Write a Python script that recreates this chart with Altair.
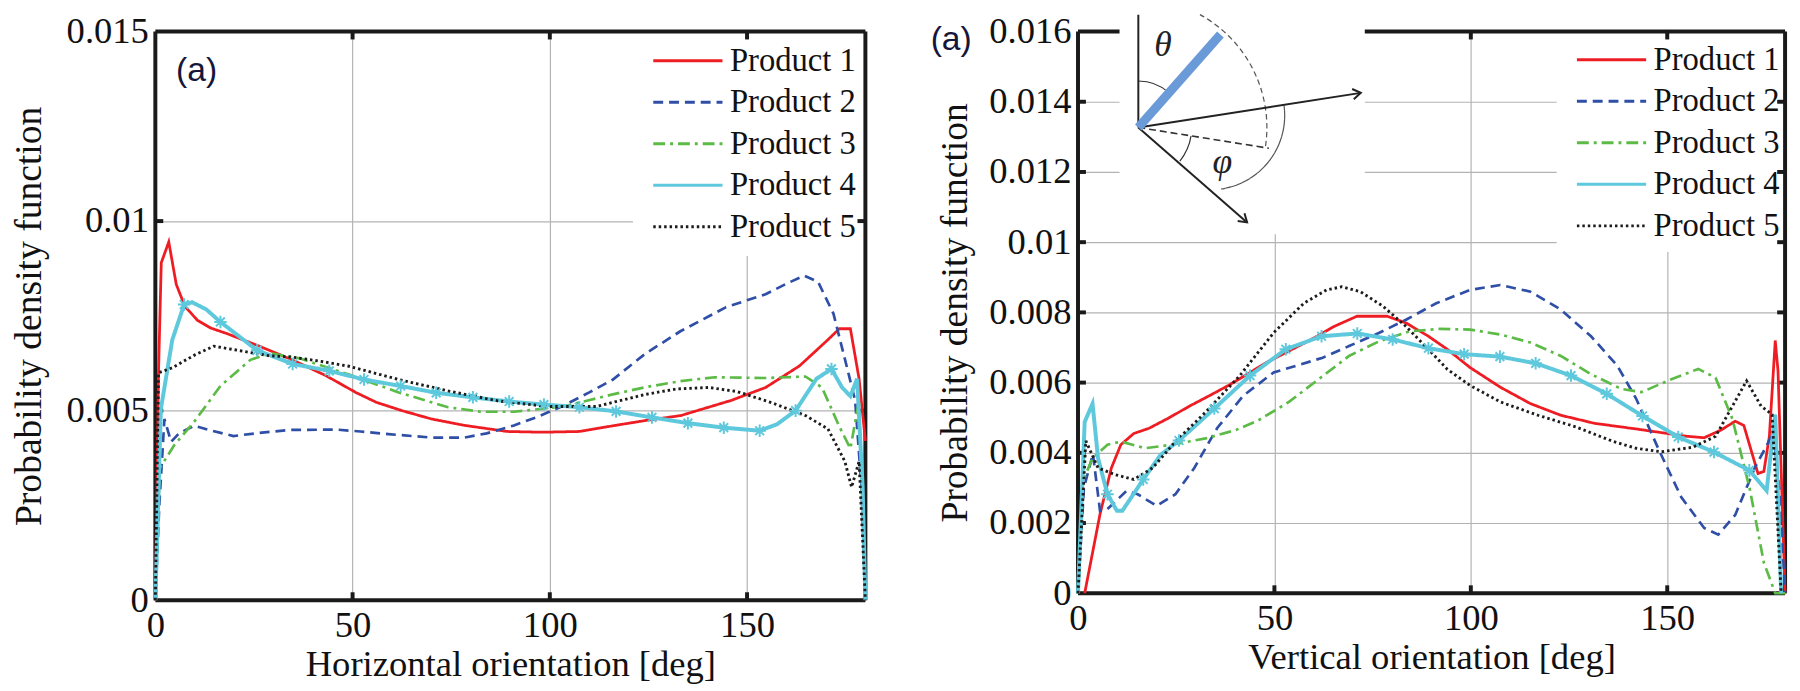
import altair as alt
import pandas as pd

SERIES = ["Product 1", "Product 2", "Product 3", "Product 4", "Product 5"]
COLORS = ["#ee1d23", "#2f4fa6", "#5cbb46", "#5ec8dc", "#1c1c1c"]
DASHES = [[1, 0], [10, 6], [12, 5, 3, 5], [1, 0], [2.5, 3]]
WIDTHS = [2.8, 2.7, 2.7, 4.0, 2.9]
FRAME = "#1a1a1a"
SERIF = "Liberation Serif"

X_TICKS = [0, 50, 100, 150]
H_Y_TICKS = [0, 0.005, 0.01, 0.015]
V_Y_TICKS = [0, 0.002, 0.004, 0.006, 0.008, 0.01, 0.012, 0.014, 0.016]

# ---------------- Horizontal orientation (left panel) ----------------
h_p1_x = [0, 0.8, 1.5, 3.4, 5.3, 7.5, 10.7, 14, 18.2, 26.6, 34.9, 43.3, 50.8, 56, 62.5, 70, 78.4, 89.2, 98, 107.5, 116, 124.3, 133.2, 146, 154.7, 163.3, 170.5, 173.4, 176.2, 178.4, 180]
h_p1_y = [0, 0.006, 0.0089, 0.00945, 0.00833, 0.00775, 0.00738, 0.00718, 0.00703, 0.00669, 0.00633, 0.00592, 0.00548, 0.00522, 0.005, 0.00478, 0.00461, 0.00445, 0.00443, 0.00445, 0.0046, 0.00474, 0.00487, 0.00527, 0.00561, 0.00618, 0.00687, 0.00716, 0.00716, 0.00584, 0.0042]

h_p2_x = [0, 1, 2.3, 4, 6, 9.8, 14, 19.8, 27, 34, 45.8, 52, 59.1, 70, 78.4, 84, 90.9, 97, 103.4, 110, 116, 124.3, 133.2, 144.7, 154.7, 160, 164.5, 168, 171.9, 175.5, 177.4, 179, 180]
h_p2_y = [0, 0.0025, 0.00478, 0.00418, 0.0044, 0.0046, 0.00448, 0.00433, 0.00442, 0.00449, 0.0045, 0.00445, 0.00438, 0.00429, 0.00429, 0.0044, 0.00461, 0.00484, 0.00513, 0.00548, 0.00582, 0.00651, 0.0071, 0.00773, 0.00807, 0.00835, 0.00856, 0.0084, 0.00756, 0.00607, 0.00527, 0.003, 0]

h_p3_x = [0, 1.1, 4.8, 9.8, 16.5, 24.1, 29.1, 36.6, 49.1, 61.7, 74.2, 82.5, 90.9, 103.4, 116, 124.3, 133.2, 141.8, 154.7, 164.8, 169, 173.4, 176.2, 178.4, 180]
h_p3_y = [0, 0.00348, 0.00409, 0.0047, 0.00565, 0.00634, 0.00651, 0.00638, 0.00595, 0.00548, 0.00509, 0.00497, 0.00497, 0.00511, 0.00543, 0.00562, 0.00578, 0.00588, 0.00586, 0.0059, 0.00561, 0.00458, 0.004, 0.00527, 0]

h_p4_x = [0, 1.4, 4.3, 7.3, 9.3, 12.9, 16.5, 25.8, 34.8, 44.1, 52.9, 62.2, 71.2, 80.5, 89.7, 98.5, 107.5, 116.8, 125.9, 135, 144.1, 153.2, 157.6, 162.3, 167.6, 171.4, 174.1, 176.2, 177.9, 179.3, 180]
h_p4_y = [0, 0.00504, 0.00687, 0.0078, 0.00786, 0.00767, 0.00734, 0.00659, 0.00623, 0.00605, 0.00582, 0.00565, 0.00547, 0.00535, 0.00524, 0.00516, 0.00509, 0.00498, 0.00482, 0.00467, 0.00455, 0.00447, 0.00464, 0.005, 0.00584, 0.0061, 0.00561, 0.00538, 0.00584, 0.003, 0]
h_p4_marks = [7.3, 16.5, 25.8, 34.8, 44.1, 52.9, 62.2, 71.2, 80.5, 89.7, 98.5, 107.5, 116.8, 125.9, 135, 144.1, 153.2, 162.3, 171.4]

h_p5_x = [0, 0.8, 4.3, 10, 14.8, 21.5, 28.7, 34.9, 42, 49.1, 61.7, 74.2, 86.7, 99.2, 111.8, 124.3, 132, 140.4, 147.6, 156.2, 164.8, 170.5, 174.8, 176.5, 178.4, 180]
h_p5_y = [0, 0.006, 0.00613, 0.00647, 0.0067, 0.00658, 0.00645, 0.00641, 0.0063, 0.00617, 0.00582, 0.00552, 0.00526, 0.00511, 0.00511, 0.00543, 0.00557, 0.00561, 0.0055, 0.00521, 0.00487, 0.00452, 0.00366, 0.00298, 0.00366, 0]

# ---------------- Vertical orientation (right panel) ----------------
v_p1_x = [1.7, 5.6, 8.5, 10.9, 14.2, 18.1, 22.9, 28.7, 33.5, 38.3, 43.1, 47.9, 53.7, 59.4, 65.2, 71, 78.7, 83.5, 89.2, 94, 99.8, 107.5, 115.2, 122.9, 131.5, 142.1, 155, 159.4, 163.7, 167.3, 169.5, 173.1, 174.6, 176, 177.5, 178.2, 180]
v_p1_y = [0, 0.00225, 0.00357, 0.00423, 0.00455, 0.0047, 0.00498, 0.00535, 0.00563, 0.00592, 0.00624, 0.00657, 0.0069, 0.00723, 0.0076, 0.00789, 0.00789, 0.0077, 0.00732, 0.00695, 0.00643, 0.00587, 0.0054, 0.00507, 0.00484, 0.00468, 0.00447, 0.00443, 0.00465, 0.0049, 0.00478, 0.00341, 0.00347, 0.00447, 0.0072, 0.00633, 0]

v_p2_x = [0, 1.5, 3.8, 5.6, 7.5, 12.3, 15.2, 20, 24.8, 29.6, 35.4, 42.1, 49.8, 55.6, 62.3, 69, 76.7, 83.5, 91.2, 99.8, 107.5, 115.2, 122.9, 130.6, 137.3, 142.1, 147.8, 153.6, 159.4, 163, 167.3, 172.4, 175.3, 177, 178.5, 180]
v_p2_y = [0, 0.003, 0.00397, 0.00235, 0.0024, 0.00291, 0.00282, 0.00249, 0.00282, 0.00357, 0.0047, 0.00563, 0.00629, 0.00648, 0.00671, 0.00704, 0.00742, 0.00779, 0.00826, 0.00864, 0.00878, 0.00859, 0.00808, 0.00732, 0.00648, 0.00554, 0.0041, 0.00273, 0.00186, 0.00167, 0.00223, 0.0036, 0.0042, 0.0046, 0.003, 0]

v_p3_x = [0, 1.25, 3.7, 7.5, 10.9, 17.1, 23.8, 32.5, 40.2, 46, 53.7, 61.3, 69, 76.7, 84.4, 92.1, 99.8, 107.5, 115.2, 122.9, 130.6, 138.3, 143.5, 150.7, 157.9, 162.3, 166.6, 171, 174.6, 177.5, 180]
v_p3_y = [0, 0.0032, 0.00385, 0.00423, 0.00432, 0.00413, 0.00423, 0.00441, 0.00465, 0.00493, 0.00545, 0.0061, 0.00676, 0.00718, 0.00746, 0.00753, 0.00751, 0.00737, 0.00714, 0.00676, 0.00624, 0.00582, 0.00573, 0.00608, 0.00639, 0.00614, 0.00496, 0.00298, 0.00087, 0, 0]

v_p4_x = [0, 1.7, 3.7, 5.1, 7.5, 9.9, 11.3, 16.6, 21, 25.7, 34.7, 43.8, 52.9, 62, 71.1, 80.1, 89.2, 98.3, 107.4, 116.5, 125.5, 134.6, 143.7, 152.8, 161.9, 170.9, 175.3, 177.5, 179]
v_p4_y = [0, 0.00488, 0.0054, 0.00385, 0.00282, 0.00235, 0.00235, 0.00324, 0.00394, 0.00435, 0.00526, 0.0062, 0.00695, 0.00732, 0.0074, 0.00723, 0.00698, 0.00681, 0.00674, 0.00655, 0.0062, 0.00568, 0.00505, 0.00445, 0.00402, 0.0035, 0.00292, 0.00509, 0]
v_p4_marks = [7.5, 16.6, 25.7, 34.7, 43.8, 52.9, 62, 71.1, 80.1, 89.2, 98.3, 107.4, 116.5, 125.5, 134.6, 143.7, 152.8, 161.9, 170.9]

v_p5_x = [0, 2, 5.1, 9.4, 14.2, 19, 24.8, 32.5, 41.2, 49.8, 57.5, 63.3, 67.1, 71.9, 77.7, 83.5, 89.2, 94, 99.8, 107.5, 117.1, 126.7, 136.3, 142.1, 148.5, 156.5, 162.3, 166.6, 170.2, 173.9, 176.7, 179]
v_p5_y = [0, 0.00434, 0.00357, 0.00338, 0.00324, 0.00357, 0.00432, 0.00516, 0.0062, 0.00742, 0.00826, 0.00864, 0.00873, 0.00859, 0.00817, 0.0076, 0.00695, 0.00638, 0.00592, 0.00545, 0.00507, 0.00474, 0.00432, 0.00413, 0.00403, 0.00416, 0.00447, 0.00533, 0.00605, 0.00533, 0.00509, 0]


def series_df(xs_list, ys_list):
    frames = []
    for name, w, xs, ys in zip(SERIES, WIDTHS, xs_list, ys_list):
        frames.append(pd.DataFrame({"x": xs, "y": ys, "series": name, "w": w,
                                    "i": list(range(len(xs)))}))
    return pd.concat(frames, ignore_index=True)


def marker_df(xs, ys, marks):
    lookup = dict(zip(xs, ys))
    return pd.DataFrame({"x": marks, "y": [lookup[m] for m in marks]})


ONE = pd.DataFrame({"k": [0]})
ASTER = "M-1,0L1,0M0,-1L0,1M-0.7,-0.7L0.7,0.7M-0.7,0.7L0.7,-0.7"
CHEVRON = "M-1,-0.65L0,0L-1,0.65"
LEG_SYMBOL = "M-8.75,0H8.75"   # long horizontal stroke drawn from a small symbol size
LABEL_EXPR = "datum.value == 0 ? '0' : format(datum.value, '.3~f')"


def rule(x, y, x2=None, y2=None, **kw):
    enc = {"x": alt.value(x), "y": alt.value(y)}
    if x2 is not None:
        enc["x2"] = alt.value(x2)
    if y2 is not None:
        enc["y2"] = alt.value(y2)
    return alt.Chart(ONE).mark_rule(**kw).encode(**enc)


def panel(df, mk, W, H, ymax, yticks, xtitle, legx, legy, bgx, bgy2, ytp, inset=None, label=None):
    xs = alt.Scale(domain=[0, 180], nice=False, zero=False)
    ys = alt.Scale(domain=[0, ymax], nice=False, zero=False)
    xaxis = alt.Axis(values=X_TICKS, title=xtitle, grid=True, ticks=False, domain=False,
                     labelFont=SERIF, labelFontSize=37, labelColor="#111", labelPadding=8,
                     titleFont=SERIF, titleFontSize=37, titleFontWeight="normal", titleColor="#111",
                     titlePadding=3, gridColor="#b3b3b3", gridWidth=1.2, labelFlush=False)
    yaxis = alt.Axis(values=yticks, labelExpr=LABEL_EXPR, title="Probability density function",
                     grid=True, ticks=False, domain=False, labelFont=SERIF, labelFontSize=37,
                     labelColor="#111", labelPadding=7, titleFont=SERIF, titleFontSize=38,
                     titleFontWeight="normal", titleColor="#111", titlePadding=ytp,
                     gridColor="#b3b3b3", gridWidth=1.2, labelOverlap=False)
    leg = alt.Legend(orient="none", legendX=legx, legendY=legy, title=None, symbolType=LEG_SYMBOL,
                     symbolSize=64, labelFont=SERIF, labelFontSize=33, labelColor="#111",
                     labelOffset=26, rowPadding=8, padding=0, symbolStrokeWidth=3)
    X = alt.X("x:Q", scale=xs, axis=xaxis, title=xtitle)
    Y = alt.Y("y:Q", scale=ys, axis=yaxis, title="Probability density function")
    lines = alt.Chart(df).mark_line().encode(
        x=X, y=Y,
        color=alt.Color("series:N", scale=alt.Scale(domain=SERIES, range=COLORS), legend=leg),
        strokeDash=alt.StrokeDash("series:N", scale=alt.Scale(domain=SERIES, range=DASHES), legend=leg),
        strokeWidth=alt.StrokeWidth("w:Q", scale=None, legend=None),
        order="i:Q",
    )
    layers = [lines.mark_line(opacity=0)]  # invisible carrier of axes/legend drawn first
    # white backing behind the legend
    layers.append(alt.Chart(ONE).mark_rect(color="white").encode(
        x=alt.value(bgx), x2=alt.value(W), y=alt.value(0), y2=alt.value(bgy2)))
    # frame box
    layers.append(rule(0, 0, x2=W, strokeWidth=4, color=FRAME))
    layers.append(rule(0, H, x2=W, strokeWidth=4, color=FRAME))
    layers.append(rule(0, 0, y2=H, strokeWidth=4, color=FRAME))
    layers.append(rule(W, 0, y2=H, strokeWidth=4, color=FRAME))
    # inward ticks
    xt = pd.DataFrame({"x": X_TICKS[1:]})
    yt = pd.DataFrame({"y": yticks[1:-1]})
    layers.append(alt.Chart(xt).mark_rule(strokeWidth=4, color=FRAME).encode(
        x=X, y=alt.value(H), y2=alt.value(H - 8)))
    layers.append(alt.Chart(xt).mark_rule(strokeWidth=4, color=FRAME).encode(
        x=X, y=alt.value(0), y2=alt.value(8)))
    layers.append(alt.Chart(yt).mark_rule(strokeWidth=4, color=FRAME).encode(
        y=Y, x=alt.value(0), x2=alt.value(8)))
    layers.append(alt.Chart(yt).mark_rule(strokeWidth=4, color=FRAME).encode(
        y=Y, x=alt.value(W), x2=alt.value(W - 8)))
    if inset is not None:
        layers.extend(inset)
    layers.append(lines)
    layers.append(alt.Chart(mk).mark_point(shape=ASTER, size=160, strokeWidth=2, color=COLORS[3],
                                           filled=False, opacity=1).encode(x=X, y=Y))
    if label is not None:
        lx, ly, txt = label
        layers.append(alt.Chart(ONE).mark_text(text=txt, font="Liberation Sans", fontSize=34,
                                               color="#16163a", align="left", baseline="middle").encode(
            x=alt.value(lx), y=alt.value(ly)))
    return alt.layer(*layers).properties(width=W, height=H)


h_df = series_df([h_p1_x, h_p2_x, h_p3_x, h_p4_x, h_p5_x], [h_p1_y, h_p2_y, h_p3_y, h_p4_y, h_p5_y])
v_df = series_df([v_p1_x, v_p2_x, v_p3_x, v_p4_x, v_p5_x], [v_p1_y, v_p2_y, v_p3_y, v_p4_y, v_p5_y])
h_mk = marker_df(h_p4_x, h_p4_y, h_p4_marks)
v_mk = marker_df(v_p4_x, v_p4_y, v_p4_marks)

# ---- inset sketch (theta / phi angles) for right panel, pixel positions ----
OX, OY = 61, 97
inset = [
    alt.Chart(ONE).mark_rect(color="white").encode(
        x=alt.value(42), x2=alt.value(290), y=alt.value(-17), y2=alt.value(205)),
    alt.Chart(ONE).mark_arc(theta=0.5, theta2=1.73, outerRadius=130, innerRadius=130, filled=False,
                            stroke="#555", strokeWidth=1.2, strokeDash=[5, 4]).encode(
        x=alt.value(OX), y=alt.value(OY)),
    alt.Chart(ONE).mark_arc(theta=1.43, theta2=3.0, outerRadius=75, innerRadius=75, filled=False,
                            stroke="#555", strokeWidth=1.2, strokeDash=[5, 4]).encode(
        x=alt.value(134), y=alt.value(85)),
    alt.Chart(ONE).mark_arc(theta=0.0, theta2=0.73, outerRadius=47, innerRadius=47, filled=False,
                            stroke="#333", strokeWidth=1.2).encode(x=alt.value(OX), y=alt.value(OY)),
    alt.Chart(ONE).mark_arc(theta=1.73, theta2=2.25, outerRadius=54, innerRadius=54, filled=False,
                            stroke="#333", strokeWidth=1.2).encode(x=alt.value(OX), y=alt.value(OY)),
    rule(OX, -17, y2=OY, strokeWidth=2, color="#222"),
    rule(OX, OY, x2=193, y2=118, strokeWidth=1.6, color="#333", strokeDash=[7, 4]),
    rule(OX, OY, x2=286, y2=62, strokeWidth=2, color="#222"),
    rule(OX, OY, x2=171, y2=193, strokeWidth=2, color="#222"),
    rule(OX, OY, x2=144, y2=3, strokeWidth=9, color="#6a9ad8", strokeCap="butt"),
    alt.Chart(ONE).mark_point(shape=CHEVRON, size=260, strokeWidth=2, color="#222", filled=False,
                              opacity=1, angle=351).encode(x=alt.value(286), y=alt.value(62)),
    alt.Chart(ONE).mark_point(shape=CHEVRON, size=260, strokeWidth=2, color="#222", filled=False,
                              opacity=1, angle=41).encode(x=alt.value(171), y=alt.value(193)),
    alt.Chart(ONE).mark_text(text="θ", font=SERIF, fontSize=36, fontStyle="italic", color="#222",
                             align="center", baseline="middle").encode(x=alt.value(86), y=alt.value(14)),
    alt.Chart(ONE).mark_text(text="φ", font=SERIF, fontSize=36, fontStyle="italic", color="#222",
                             align="center", baseline="middle").encode(x=alt.value(146), y=alt.value(132)),
]

left = panel(h_df, h_mk, 718, 575, 0.015, H_Y_TICKS, "Horizontal orientation [deg]",
             522, 13, 483, 227, 18, label=(21, 40, "(a)"))
right = panel(v_df, v_mk, 715, 568, 0.016, V_Y_TICKS, "Vertical orientation [deg]",
              523, 12, 484, 223, 14, inset=inset, label=(-149, 9, "(a)"))

chart = alt.hconcat(left, right, spacing=56).resolve_scale(
    color="independent", strokeDash="independent",
    x="independent", y="independent"
).resolve_legend(
    color="independent", strokeDash="independent"
).properties(
    padding={"left": 2, "top": 0, "right": 0, "bottom": 0}
).configure_view(stroke="transparent").configure_axis(
    labelFont=SERIF, titleFont=SERIF
).configure_legend(labelFont=SERIF)

chart.save("out.html", embed_options={"renderer": "svg", "actions": False})
